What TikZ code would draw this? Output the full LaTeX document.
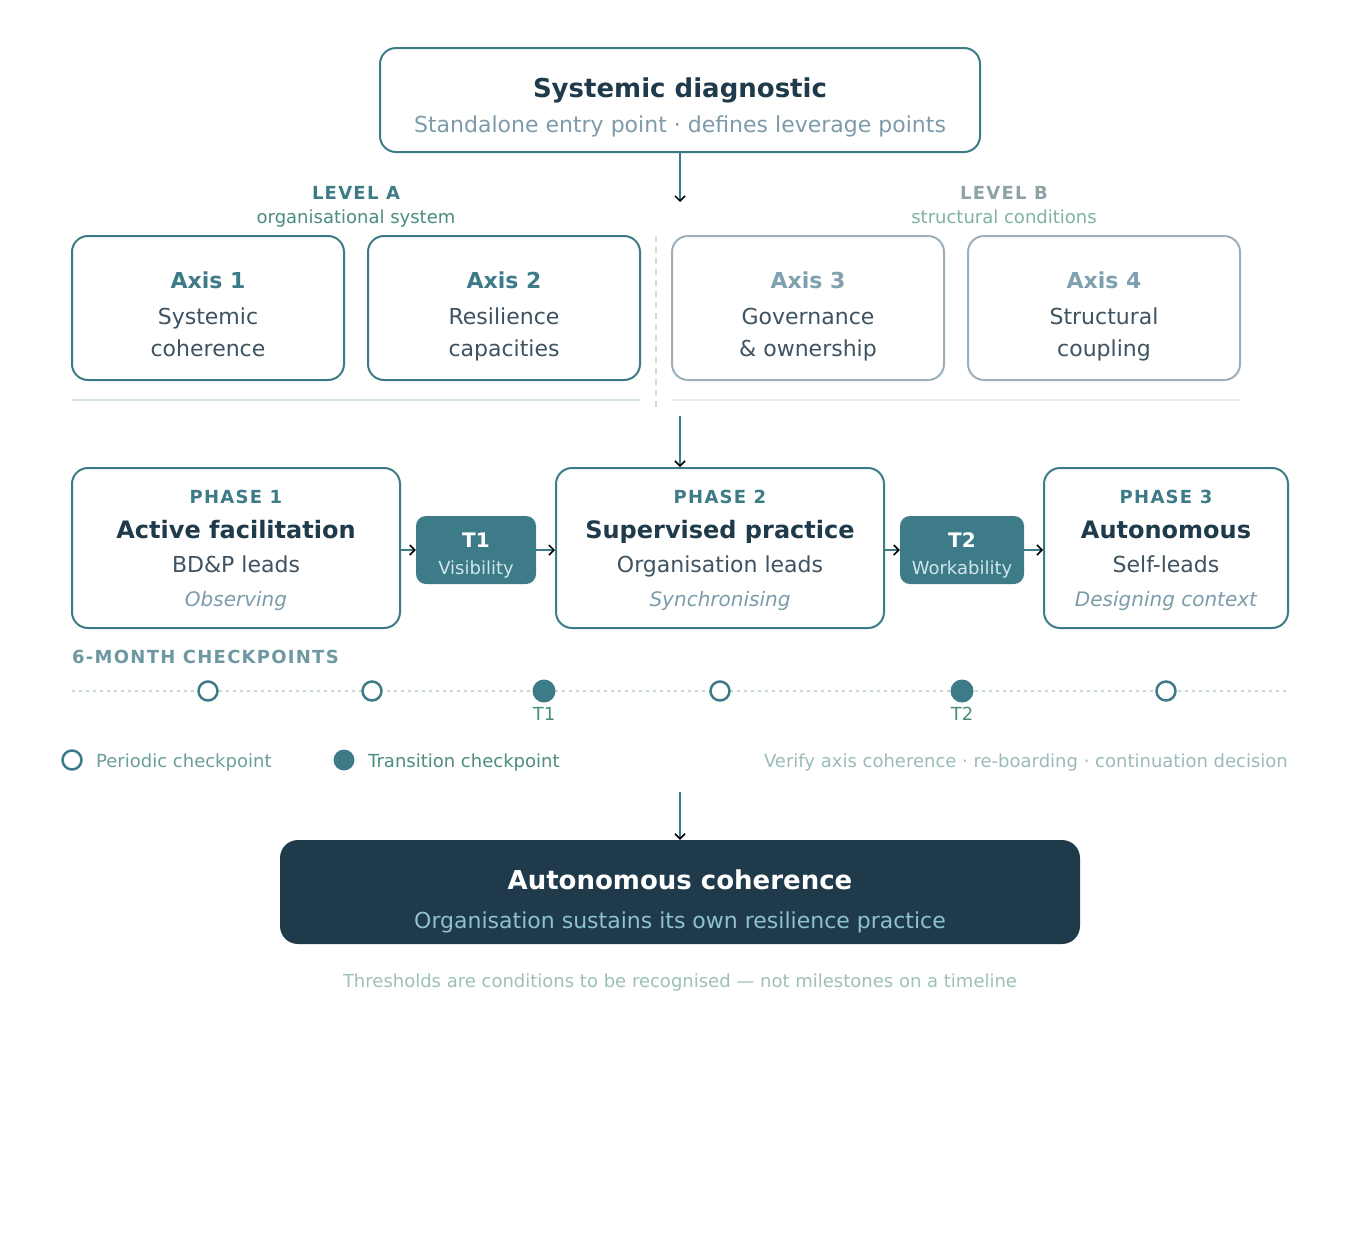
\documentclass[tikz,border=0pt]{standalone}
\usepackage{fontspec}
\setmainfont{DejaVu Sans}
\usetikzlibrary{arrows.meta}

\definecolor{navy}{HTML}{1F3A4B}
\definecolor{teal}{HTML}{3D7B88}
\definecolor{greyblue}{HTML}{9AAFBA}
\definecolor{axislite}{HTML}{7FA0AE}
\definecolor{subgrey}{HTML}{7D9BAA}
\definecolor{bodytext}{HTML}{3E5260}
\definecolor{levgreen}{HTML}{4A8C7E}
\definecolor{levlite}{HTML}{7DB39D}
\definecolor{levbgrey}{HTML}{8DA3A6}
\definecolor{legtext}{HTML}{6A9E9A}
\definecolor{notetext}{HTML}{9BBAB9}
\definecolor{foottext}{HTML}{9CC0B2}
\definecolor{monthgrey}{HTML}{6E98A1}
\definecolor{dotline}{HTML}{C5D7DB}
\definecolor{endsub}{HTML}{8EC3CB}
\definecolor{tsub}{HTML}{D0E6EA}
\definecolor{rulea}{HTML}{D6E3E7}
\definecolor{ruleb}{HTML}{E8ECEE}

\newcommand{\fs}[1]{\fontsize{#1}{#1}\selectfont}
\newcommand{\spaced}{\addfontfeatures{LetterSpace=7}}

\tikzset{
  box/.style={draw=teal, line width=2pt, rounded corners=16pt, fill=white, inner sep=0pt},
  boxb/.style={box, draw=greyblue},
  tbox/.style={fill=teal, rounded corners=10pt, inner sep=0pt, minimum width=120pt, minimum height=68pt},
  endbox/.style={fill=navy, rounded corners=18pt, inner sep=0pt, minimum width=800pt, minimum height=104pt},
  txt/.style={inner sep=0pt, anchor=base},
  flow/.style={draw=teal, line width=1.5pt, -{Straight Barb[length=5pt,width=10pt,color=black]}},
  ckopen/.style={circle, draw=teal, line width=2.5pt, fill=white, minimum size=19pt, inner sep=0pt},
  ckfull/.style={circle, fill=teal, minimum size=23pt, inner sep=0pt},
}

\begin{document}
\begin{tikzpicture}[x=1pt, y=-1pt]
\useasboundingbox (0,0) rectangle (1360,1240);

% entry box
\node[box, minimum width=600pt, minimum height=104pt] (diag) at (680,100) {};
\node[txt, text=navy] (diagt) at (680,97) {\fs{26}\bfseries Systemic diagnostic};
\node[txt, text=subgrey] (diags) at (680,132) {\fs{22}Standalone entry point · defines leverage points};

\coordinate (levtop) at (680,202);
\draw[flow] (diag.south) -- (levtop);

% levels
\node[txt, text=teal] (lva) at (356,199) {\fs{18}\bfseries\spaced LEVEL A};
\node[txt, text=levgreen] (lvas) at (356,223) {\fs{18}organisational system};
\node[txt, text=levbgrey] (lvb) at (1004,199) {\fs{18}\bfseries\spaced LEVEL B};
\node[txt, text=levlite] (lvbs) at (1004,223) {\fs{18}structural conditions};

\draw[dash pattern=on 6pt off 5pt, line width=1.5pt, color=black!15] (656,236) -- (656,410);

% axes
\foreach \x/\n/\st in {208/ax1/box, 504/ax2/box, 808/ax3/boxb, 1104/ax4/boxb}
  \node[\st, minimum width=272pt, minimum height=144pt] (\n) at (\x,308) {};
\node[txt, text=teal] (ax1h) at (208,288) {\fs{22}\bfseries Axis 1};
\node[txt, text=bodytext] (ax1a) at (208,324) {\fs{22}Systemic};
\node[txt, text=bodytext] (ax1b) at (208,356) {\fs{22}coherence};
\node[txt, text=teal] (ax2h) at (504,288) {\fs{22}\bfseries Axis 2};
\node[txt, text=bodytext] (ax2a) at (504,324) {\fs{22}Resilience};
\node[txt, text=bodytext] (ax2b) at (504,356) {\fs{22}capacities};
\node[txt, text=axislite] (ax3h) at (808,288) {\fs{22}\bfseries Axis 3};
\node[txt, text=bodytext] (ax3a) at (808,324) {\fs{22}Governance};
\node[txt, text=bodytext] (ax3b) at (808,356) {\fs{22}\& ownership};
\node[txt, text=axislite] (ax4h) at (1104,288) {\fs{22}\bfseries Axis 4};
\node[txt, text=bodytext] (ax4a) at (1104,324) {\fs{22}Structural};
\node[txt, text=bodytext] (ax4b) at (1104,356) {\fs{22}coupling};

\draw[line width=2pt, color=rulea] (72,400) -- (640,400);
\draw[line width=2pt, color=ruleb] (672,400) -- (1240,400);

% phases
\node[box, minimum width=328pt, minimum height=160pt] (ph1) at (236,548) {};
\node[box, minimum width=328pt, minimum height=160pt] (ph2) at (720,548) {};
\node[box, minimum width=244pt, minimum height=160pt] (ph3) at (1166,548) {};
\node[tbox] (t1) at (476,550) {};
\node[tbox, minimum width=124pt] (t2) at (962,550) {};

\node[txt, text=teal] (ph1k) at (236,503) {\fs{18}\bfseries\spaced PHASE 1};
\node[txt, text=navy] (ph1t) at (236,538) {\fs{24}\bfseries Active facilitation};
\node[txt, text=bodytext] (ph1l) at (236,572) {\fs{22}BD\&P leads};
\node[txt, text=subgrey] (ph1m) at (236,606) {\fs{20}\itshape Observing};
\node[txt, text=teal] (ph2k) at (720,503) {\fs{18}\bfseries\spaced PHASE 2};
\node[txt, text=navy] (ph2t) at (720,538) {\fs{24}\bfseries Supervised practice};
\node[txt, text=bodytext] (ph2l) at (720,572) {\fs{22}Organisation leads};
\node[txt, text=subgrey] (ph2m) at (720,606) {\fs{20}\itshape Synchronising};
\node[txt, text=teal] (ph3k) at (1166,503) {\fs{18}\bfseries\spaced PHASE 3};
\node[txt, text=navy] (ph3t) at (1166,538) {\fs{24}\bfseries Autonomous};
\node[txt, text=bodytext] (ph3l) at (1166,572) {\fs{22}Self-leads};
\node[txt, text=subgrey] (ph3m) at (1166,606) {\fs{20}\itshape Designing context};

\node[txt, text=white] (t1h) at (476,547) {\fs{20}\bfseries T1};
\node[txt, text=tsub] (t1s) at (476,574) {\fs{18}Visibility};
\node[txt, text=white] (t2h) at (962,547) {\fs{20}\bfseries T2};
\node[txt, text=tsub] (t2s) at (962,574) {\fs{18}Workability};

\coordinate (phtop) at (680,416);
\draw[flow] (phtop) -- (phtop |- ph2.north);
\draw[flow] (ph1.east |- t1.west) -- (t1.west);
\draw[flow] (t1.east) -- (ph2.west |- t1.east);
\draw[flow] (ph2.east |- t2.west) -- (t2.west);
\draw[flow] (t2.east) -- (ph3.west |- t2.east);

% checkpoints
\node[txt, anchor=base west, text=monthgrey] (mon) at (72,663) {\fs{18}\bfseries\spaced 6-MONTH CHECKPOINTS};
\draw[dotline, line width=1.5pt, dash pattern=on 3pt off 4pt] (72,691) -- (1288,691);
\foreach \x/\n in {208/c1, 372/c2, 720/c4, 1166/c6}
  \node[ckopen] (\n) at (\x,691) {};
\foreach \x/\n in {544/c3, 962/c5}
  \node[ckfull] (\n) at (\x,691) {};
\node[txt, text=levgreen] (c3l) at (544,720) {\fs{18}T1};
\node[txt, text=levgreen] (c5l) at (962,720) {\fs{18}T2};

% legend
\node[ckopen] (lgo) at (72,760) {};
\node[txt, anchor=base west, text=legtext] (lgot) at (96,767) {\fs{18}Periodic checkpoint};
\node[ckfull, minimum size=21pt] (lgf) at (344,760) {};
\node[txt, anchor=base west, text=levgreen] (lgft) at (368,767) {\fs{18}Transition checkpoint};
\node[txt, anchor=base east, text=notetext] (note) at (1288,767) {\fs{18}Verify axis coherence · re-boarding · continuation decision};

% outcome
\coordinate (endtop) at (680,792);
\node[endbox] (fin) at (680,892) {};
\draw[flow] (endtop) -- (fin.north);
\node[txt, text=white] (fint) at (680,889) {\fs{26}\bfseries Autonomous coherence};
\node[txt, text=endsub] (fins) at (680,928) {\fs{22}Organisation sustains its own resilience practice};

\node[txt, text=foottext] (foot) at (680,987) {\fs{18}Thresholds are conditions to be recognised — not milestones on a timeline};
\end{tikzpicture}
\end{document}
